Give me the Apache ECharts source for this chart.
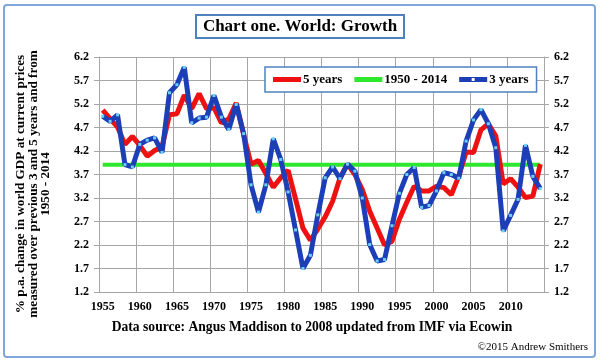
<!DOCTYPE html>
<html>
<head>
<meta charset="utf-8">
<script src="https://cdn.jsdelivr.net/npm/echarts@6/dist/echarts.min.js"></script>
<style>html,body{margin:0;padding:0;background:#fff}#c{width:600px;height:361px}</style>
</head>
<body>
<div id="c"></div>
<script>
const years = ['1955','1956','1957','1958','1959','1960','1961','1962','1963','1964',
  '1965','1966','1967','1968','1969','1970','1971','1972','1973','1974',
  '1975','1976','1977','1978','1979','1980','1981','1982','1983','1984',
  '1985','1986','1987','1988','1989','1990','1991','1992','1993','1994',
  '1995','1996','1997','1998','1999','2000','2001','2002','2003','2004',
  '2005','2006','2007','2008','2009','2010','2011','2012','2013','2014'];

const fiveYears = [5.07,4.89,4.71,4.34,4.51,4.32,4.09,4.21,4.29,4.97,
  4.99,5.39,5.10,5.42,5.10,5.12,4.80,4.88,5.22,4.55,
  3.92,4.00,3.72,3.43,3.63,3.79,3.18,2.56,2.30,2.54,
  2.80,3.13,3.63,3.92,3.70,3.38,2.92,2.56,2.20,2.28,
  2.75,3.11,3.45,3.35,3.35,3.45,3.42,3.27,3.66,4.18,
  4.17,4.65,4.78,4.52,3.50,3.61,3.43,3.21,3.24,3.92];

const threeYears = [4.94,4.83,4.97,3.91,3.86,4.34,4.43,4.48,4.17,5.44,
  5.61,5.98,4.80,4.90,4.92,5.38,4.92,4.66,5.19,4.57,
  3.48,2.90,3.48,4.46,4.02,3.33,2.52,1.70,1.98,2.84,
  3.63,3.86,3.61,3.92,3.77,3.20,2.21,1.86,1.89,2.61,
  3.30,3.70,3.85,3.00,3.04,3.35,3.74,3.70,3.62,4.41,
  4.86,5.08,4.78,4.27,2.50,2.83,3.17,4.32,3.66,3.40];

const average1950to2014 = [3.91,3.91,3.91,3.91,3.91,3.91,3.91,3.91,3.91,3.91,
  3.91,3.91,3.91,3.91,3.91,3.91,3.91,3.91,3.91,3.91,
  3.91,3.91,3.91,3.91,3.91,3.91,3.91,3.91,3.91,3.91,
  3.91,3.91,3.91,3.91,3.91,3.91,3.91,3.91,3.91,3.91,
  3.91,3.91,3.91,3.91,3.91,3.91,3.91,3.91,3.91,3.91,
  3.91,3.91,3.91,3.91,3.91,3.91,3.91,3.91,3.91,3.91];

const yTicks = [1.2,1.7,2.2,2.7,3.2,3.7,4.2,4.7,5.2,5.7,6.2];

const FONT = 'Liberation Serif';
const gridColor = '#a6a6a6';
const RED = '#ee1111', GREEN = '#2ee82e', BLUE = '#1c3fb8', MARK = '#6cd0f5';

function yAxisCfg(pos) {
  return {
    type: 'value', position: pos, min: 1.2, max: 6.2,
    axisLine: {show: true, lineStyle: {color: gridColor}},
    axisTick: {show: true, length: 5, customValues: yTicks, lineStyle: {color: gridColor}},
    axisLabel: {customValues: yTicks, margin: 10, color: '#000', fontSize: 12, fontWeight: 'bold', fontFamily: FONT,
      formatter: v => v.toFixed(1)},
    splitLine: {show: pos === 'left', lineStyle: {color: gridColor, width: 1}}
  };
}

const lineIcon = 'path://M0,0H28V5H0Z';
const markedLineIcon = 'path://M0,0H28V5H0Z M12.5,1V4H15.5V1Z';

const chart = echarts.init(document.getElementById('c'), null, {renderer: 'canvas'});
chart.setOption({
  animation: false,
  backgroundColor: '#fff',
  textStyle: {fontFamily: FONT},
  title: {
    text: 'Chart one. World: Growth', left: 'center', top: 15,
    padding: [3, 7], borderColor: '#4f81bd', borderWidth: 2,
    textStyle: {fontSize: 17, fontWeight: 'bold', color: '#000', fontFamily: FONT}
  },
  legend: {
    left: 265, top: 67, padding: [6, 8], itemGap: 12, itemWidth: 28, itemHeight: 5,
    borderColor: '#4f81bd', borderWidth: 1.5, backgroundColor: '#fff',
    textStyle: {fontSize: 13, fontWeight: 'bold', color: '#000', fontFamily: FONT, padding: [0, 0, 0, -3]},
    data: [
      {name: '5 years', icon: lineIcon, itemStyle: {color: RED}},
      {name: '1950 - 2014', icon: lineIcon, itemStyle: {color: GREEN}},
      {name: '3 years', icon: markedLineIcon, itemStyle: {color: BLUE}}
    ]
  },
  grid: {left: 99, right: 56, top: 57, bottom: 69},
  xAxis: {
    type: 'category', data: years, boundaryGap: true,
    axisLine: {lineStyle: {color: gridColor}},
    axisTick: {interval: 4, length: 5, lineStyle: {color: gridColor}},
    axisLabel: {interval: 4, margin: 9, color: '#000', fontSize: 12, fontWeight: 'bold', fontFamily: FONT},
    splitLine: {show: true, interval: 4, lineStyle: {color: gridColor}}
  },
  yAxis: [yAxisCfg('left'), yAxisCfg('right')],
  graphic: [
    {type: 'rect', shape: {x: 4, y: 5, width: 591, height: 352, r: 3}, style: {fill: null, stroke: '#7ea6d8', lineWidth: 2}, silent: true},
    {type: 'text', x: 33.5, y: 184, rotation: Math.PI / 2,
      style: {text: '% p.a. change in world GDP at current prices\nmeasured over previous 3 and 5 years and from\n1950 - 2014',
        align: 'center', verticalAlign: 'middle', fontSize: 13.2, fontWeight: 'bold', fontFamily: FONT, fill: '#000', lineHeight: 12.5}},
    {type: 'text', x: 312, y: 327,
      style: {text: 'Data source: Angus Maddison to 2008 updated from IMF via Ecowin', align: 'center', verticalAlign: 'middle',
        fontSize: 13.6, fontWeight: 'bold', fontFamily: FONT, fill: '#000'}},
    {type: 'text', x: 588, y: 347,
      style: {text: '\u00a92015 Andrew Smithers', align: 'right', verticalAlign: 'middle',
        fontSize: 11, fontFamily: FONT, fill: '#000'}}
  ],
  series: [
    {name: '1950 - 2014', type: 'line', data: average1950to2014, symbol: 'none',
      lineStyle: {color: GREEN, width: 4}, itemStyle: {color: GREEN}},
    {name: '5 years', type: 'line', data: fiveYears, symbol: 'none',
      lineStyle: {color: RED, width: 5}, itemStyle: {color: RED}},
    {name: '3 years', type: 'line', data: threeYears, symbol: 'rect', symbolSize: 3, showAllSymbol: true,
      lineStyle: {color: BLUE, width: 5}, itemStyle: {color: MARK, borderWidth: 0}}
  ]
});
</script>
</body>
</html>
